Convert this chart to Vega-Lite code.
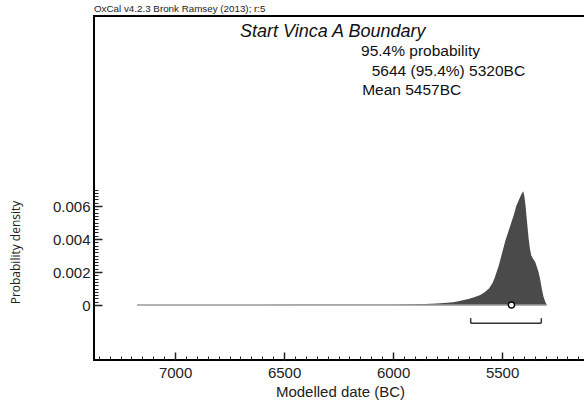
{
  "$schema": "https://vega.github.io/schema/vega-lite/v6.json",
  "width": 492,
  "height": 344,
  "autosize": {"type": "none"},
  "padding": {"left": 94, "top": 16, "right": 0, "bottom": 54},
  "background": "white",
  "title": {"text": "OxCal v4.2.3 Bronk Ramsey (2013); r:5", "anchor": "start", "frame": "group", "fontSize": 9.8, "font": "Liberation Sans", "fontWeight": "normal", "color": "#222", "offset": 2},
  "config": {
    "view": {"stroke": "black", "strokeWidth": 2},
    "axis": {"grid": false, "domain": false, "tickColor": "#222", "labelColor": "#222", "labelFont": "Liberation Sans", "titleFont": "Liberation Sans", "titleColor": "#222", "titleFontWeight": "normal"}
  },
  "datasets": {
    "density": [
      {"year": 7175, "density": 0},
      {"year": 6800, "density": 0.000005},
      {"year": 6400, "density": 0.000008},
      {"year": 6100, "density": 0.00001},
      {"year": 6000, "density": 0.00002},
      {"year": 5950, "density": 0.00003},
      {"year": 5900, "density": 0.00004},
      {"year": 5850, "density": 0.00006},
      {"year": 5800, "density": 0.00009},
      {"year": 5750, "density": 0.00013},
      {"year": 5725, "density": 0.00017},
      {"year": 5700, "density": 0.00022},
      {"year": 5675, "density": 0.0003},
      {"year": 5650, "density": 0.00038},
      {"year": 5625, "density": 0.00048},
      {"year": 5600, "density": 0.0006},
      {"year": 5580, "density": 0.00078},
      {"year": 5560, "density": 0.001},
      {"year": 5545, "density": 0.0013},
      {"year": 5535, "density": 0.0016},
      {"year": 5525, "density": 0.002},
      {"year": 5515, "density": 0.0024},
      {"year": 5505, "density": 0.0029},
      {"year": 5495, "density": 0.0034},
      {"year": 5485, "density": 0.0039},
      {"year": 5475, "density": 0.0043},
      {"year": 5465, "density": 0.0047},
      {"year": 5455, "density": 0.0051},
      {"year": 5445, "density": 0.0055},
      {"year": 5435, "density": 0.006},
      {"year": 5425, "density": 0.0063},
      {"year": 5415, "density": 0.0066},
      {"year": 5408, "density": 0.0068},
      {"year": 5403, "density": 0.0069},
      {"year": 5398, "density": 0.0066},
      {"year": 5393, "density": 0.0061},
      {"year": 5388, "density": 0.0054},
      {"year": 5383, "density": 0.0047},
      {"year": 5378, "density": 0.004},
      {"year": 5372, "density": 0.0034},
      {"year": 5366, "density": 0.003},
      {"year": 5358, "density": 0.0028},
      {"year": 5348, "density": 0.0026},
      {"year": 5340, "density": 0.0023},
      {"year": 5333, "density": 0.002},
      {"year": 5326, "density": 0.0016},
      {"year": 5318, "density": 0.001},
      {"year": 5310, "density": 0.0005},
      {"year": 5302, "density": 0.0002},
      {"year": 5295, "density": 0}
    ],
    "summary": [{"mean": 5457, "from": 5644, "to": 5320}]
  },
  "layer": [
    {
      "data": {"name": "density"},
      "mark": {"type": "area", "color": "#4a4a4a", "interpolate": "linear"},
      "encoding": {
        "x": {"field": "year", "type": "quantitative", "scale": {"domain": [7372, 5115], "nice": false, "zero": false},
          "axis": {"orient": "bottom", "values": [7000, 6500, 6000, 5500], "format": "d", "tickSize": -8, "tickWidth": 1.5, "labelFontSize": 15, "labelPadding": 13, "title": "Modelled date (BC)", "titleFontSize": 15, "titleY": 31, "titleBaseline": "middle"}},
        "y": {"field": "density", "type": "quantitative", "scale": {"domain": [-0.003333, 0.017515], "nice": false, "zero": false},
          "axis": {"orient": "left", "values": [0, 0.002, 0.004, 0.006], "format": ".3~f", "tickSize": -8, "tickWidth": 1.5, "labelFontSize": 15, "labelPadding": 12, "title": "Probability density", "titleFont": "Open Sans", "titleFontSize": 12, "titleX": -79, "titleY": 236, "titleAngle": -90, "titleAlign": "center", "titleBaseline": "middle"}}
      }
    },
    {
      "data": {"name": "density"},
      "mark": {"type": "rule", "color": "#999", "strokeWidth": 1.5},
      "encoding": {
        "x": {"aggregate": "min", "field": "year", "type": "quantitative", "scale": {"domain": [7372, 5115], "nice": false, "zero": false},
          "axis": {"orient": "bottom", "values": [5150, 5200, 5250, 5300, 5350, 5400, 5450, 5500, 5550, 5600, 5650, 5700, 5750, 5800, 5850, 5900, 5950, 6000, 6050, 6100, 6150, 6200, 6250, 6300, 6350, 6400, 6450, 6500, 6550, 6600, 6650, 6700, 6750, 6800, 6850, 6900, 6950, 7000, 7050, 7100, 7150, 7200, 7250, 7300, 7350], "tickSize": -4, "tickWidth": 1, "labels": false, "title": null}},
        "x2": {"aggregate": "max", "field": "year"},
        "y": {"datum": 0, "type": "quantitative", "scale": {"domain": [-0.003333, 0.017515], "nice": false, "zero": false},
          "axis": {"orient": "left", "values": [0, 0.0002, 0.0004, 0.0006, 0.0008, 0.001, 0.0012, 0.0014, 0.0016, 0.0018, 0.002, 0.0022, 0.0024, 0.0026, 0.0028, 0.003, 0.0032, 0.0034, 0.0036, 0.0038, 0.004, 0.0042, 0.0044, 0.0046, 0.0048, 0.005, 0.0052, 0.0054, 0.0056, 0.0058, 0.006, 0.0062, 0.0064, 0.0066, 0.0068, 0.007], "tickSize": -4, "tickWidth": 1, "labels": false, "title": null}}
      }
    },
    {
      "data": {"name": "summary"},
      "mark": {"type": "rule", "color": "#333", "strokeWidth": 1.5},
      "encoding": {
        "x": {"field": "from", "type": "quantitative", "scale": {"domain": [7372, 5115], "nice": false, "zero": false}, "axis": null},
        "x2": {"field": "to"},
        "y": {"datum": -0.0011, "type": "quantitative", "scale": {"domain": [-0.003333, 0.017515], "nice": false, "zero": false}, "axis": null}
      }
    },
    {
      "data": {"name": "summary"},
      "mark": {"type": "rule", "color": "#333", "strokeWidth": 1.5},
      "encoding": {
        "x": {"field": "from", "type": "quantitative", "scale": {"domain": [7372, 5115], "nice": false, "zero": false}, "axis": null},
        "y": {"datum": -0.0011, "type": "quantitative", "scale": {"domain": [-0.003333, 0.017515], "nice": false, "zero": false}, "axis": null},
        "y2": {"datum": -0.0008}
      }
    },
    {
      "data": {"name": "summary"},
      "mark": {"type": "rule", "color": "#333", "strokeWidth": 1.5},
      "encoding": {
        "x": {"field": "to", "type": "quantitative", "scale": {"domain": [7372, 5115], "nice": false, "zero": false}, "axis": null},
        "y": {"datum": -0.0011, "type": "quantitative", "scale": {"domain": [-0.003333, 0.017515], "nice": false, "zero": false}, "axis": null},
        "y2": {"datum": -0.0008}
      }
    },
    {
      "data": {"name": "summary"},
      "mark": {"type": "point", "filled": true, "fill": "white", "stroke": "black", "strokeWidth": 1.5, "size": 38, "opacity": 1},
      "encoding": {
        "x": {"field": "mean", "type": "quantitative", "scale": {"domain": [7372, 5115], "nice": false, "zero": false}, "axis": null},
        "y": {"datum": 0, "type": "quantitative", "scale": {"domain": [-0.003333, 0.017515], "nice": false, "zero": false}, "axis": null}
      }
    },
    {
      "data": {"values": [{"label": "Start Vinca A Boundary"}]},
      "mark": {"type": "text", "align": "left", "baseline": "alphabetic", "font": "Liberation Sans", "fontStyle": "italic", "fontSize": 18, "color": "#111"},
      "encoding": {
        "text": {"field": "label"},
        "x": {"datum": 6702, "type": "quantitative", "scale": {"domain": [7372, 5115], "nice": false, "zero": false}, "axis": null},
        "y": {"datum": 0.01624, "type": "quantitative", "scale": {"domain": [-0.003333, 0.017515], "nice": false, "zero": false}, "axis": null}
      }
    },
    {
      "data": {"values": [{"label": "95.4% probability"}]},
      "mark": {"type": "text", "align": "left", "baseline": "alphabetic", "font": "Liberation Sans", "fontSize": 15.5, "color": "#111"},
      "encoding": {
        "text": {"field": "label"},
        "x": {"datum": 6147, "type": "quantitative", "scale": {"domain": [7372, 5115], "nice": false, "zero": false}, "axis": null},
        "y": {"datum": 0.01509, "type": "quantitative", "scale": {"domain": [-0.003333, 0.017515], "nice": false, "zero": false}, "axis": null}
      }
    },
    {
      "data": {"values": [{"label": "5644 (95.4%) 5320BC"}]},
      "mark": {"type": "text", "align": "left", "baseline": "alphabetic", "font": "Liberation Sans", "fontSize": 15.5, "color": "#111"},
      "encoding": {
        "text": {"field": "label"},
        "x": {"datum": 6098, "type": "quantitative", "scale": {"domain": [7372, 5115], "nice": false, "zero": false}, "axis": null},
        "y": {"datum": 0.0139, "type": "quantitative", "scale": {"domain": [-0.003333, 0.017515], "nice": false, "zero": false}, "axis": null}
      }
    },
    {
      "data": {"values": [{"label": "Mean 5457BC"}]},
      "mark": {"type": "text", "align": "left", "baseline": "alphabetic", "font": "Liberation Sans", "fontSize": 15.5, "color": "#111"},
      "encoding": {
        "text": {"field": "label"},
        "x": {"datum": 6142, "type": "quantitative", "scale": {"domain": [7372, 5115], "nice": false, "zero": false}, "axis": null},
        "y": {"datum": 0.01272, "type": "quantitative", "scale": {"domain": [-0.003333, 0.017515], "nice": false, "zero": false}, "axis": null}
      }
    }
  ],
  "resolve": {"axis": {"x": "independent", "y": "independent"}}
}
